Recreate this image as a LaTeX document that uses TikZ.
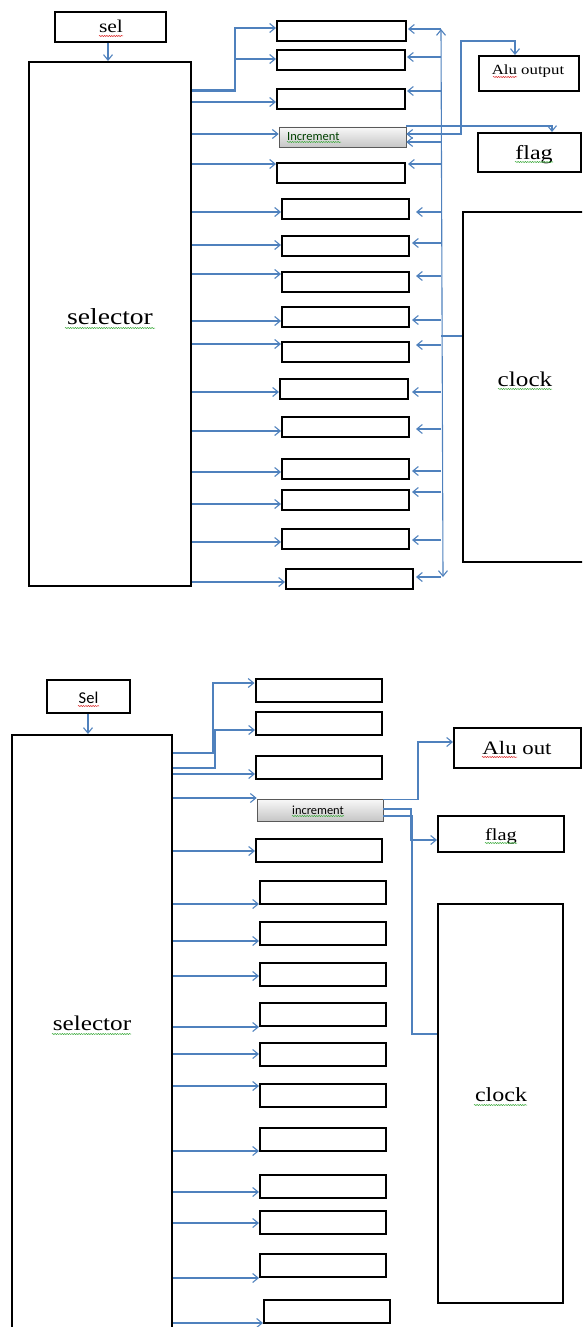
\documentclass[tikz,border=0pt]{standalone}
\usepackage{fontspec}
\setmainfont{Liberation Serif}
\newfontfamily\wserif[FakeStretch=1.2]{Liberation Serif}
\newfontfamily\wsans{Carlito}
\usetikzlibrary{arrows.meta,shadows,decorations.pathmorphing}
\definecolor{wblue}{RGB}{79,129,189}
\definecolor{sqred}{RGB}{220,40,40}
\definecolor{sqgreen}{RGB}{60,170,60}
\begin{document}
\begin{tikzpicture}[x=1pt,y=-1pt,
  box/.style={draw=black, line width=2pt, fill=white, inner sep=0pt, minimum width=127pt, minimum height=20pt},
  bigbox/.style={draw=black, line width=2pt, fill=white, inner sep=0pt},
  incbox/.style={draw=gray!70!black, line width=0.6pt, top color=gray!5, bottom color=gray!45, inner sep=0pt,
     drop shadow={shadow xshift=1pt, shadow yshift=-1.2pt, opacity=0.35}},
  lbl/.style={inner sep=0pt, anchor=base},
  conn/.style={draw=wblue, line width=1.1pt, -{Straight Barb[length=5.5pt,width=9pt]}},
  plain/.style={draw=wblue, line width=1.1pt},
  dbl/.style={draw=wblue, line width=1.1pt, {Straight Barb[length=5.5pt,width=9pt]}-{Straight Barb[length=5.5pt,width=9pt]}},
  squig/.style={decorate, decoration={snake, amplitude=0.6pt, segment length=2.4pt}, line width=0.5pt}
]
\useasboundingbox (0,0) rectangle (582,1327);
\clip (0,0) rectangle (582,1327);

% ================= TOP DIAGRAM =================
\node[box, minimum width=111pt, minimum height=30pt] (selT) at (110.5,27) {};
\node[lbl, font={\wserif\fontsize{18}{18}\selectfont}] (selTt) at (111,33) {sel};
\node[bigbox, minimum width=162pt, minimum height=524pt] (selA) at (110,324) {};
\node[lbl, font={\wserif\fontsize{23}{23}\selectfont}] (selAt) at (110,324) {selector};

\foreach \n/\cx/\cy/\w in {t1/341.5/31/129, t2/341/60/128, t3/341/99/128, t5/341/173/128,
  t6/345.5/209/127, t7/345.5/246/127, t8/345.5/282/127, t9/345.5/316.5/127, t10/345.5/352/127,
  t11/344/388.5/128, t12/345.5/427/127, t13/345.5/469/127, t14/345.5/499.5/127, t15/345.5/539/127,
  t16/349.5/579/127}
  \node[box, minimum width=\w pt] (\n) at (\cx,\cy) {};
\node[incbox, minimum width=127pt, minimum height=20pt] (tinc) at (342.5,137) {};
\node[lbl, anchor=base west, font={\wsans\fontsize{12.5}{12.5}\selectfont}, text=black!75!green] (tinct) at (287,140) {Increment};

\node[box, minimum width=100pt, minimum height=35pt] (aluT) at (529,73.5) {};
\node[lbl, font={\wserif\fontsize{14}{14}\selectfont}] (aluTt) at (528,75) {Alu output};
\node[box, minimum width=103pt, minimum height=39pt] (flagT) at (529.5,152.5) {};
\node[lbl, font={\wserif\fontsize{20}{20}\selectfont}] (flagTt) at (534,159) {flag};
\node[bigbox, minimum width=140pt, minimum height=350pt] (clkT) at (533,387) {};
\node[lbl, font={\wserif\fontsize{21}{21}\selectfont}] (clkTt) at (525,386) {clock};

% selector arrows
\draw[conn] (selT.south -| 108,0) -- (selA.north -| 108,0);
\draw[conn] (selA.east |- 0,90) -| (235,28) -- (t1.west |- 0,28);
\draw[conn] (selA.east |- 0,91.5) -| (235,59) -- (t2.west |- 0,59);
\draw[conn] (selA.east |- 0,134) -- (tinc.west |- 0,134);
\foreach \n/\y in {t3/102, t5/164, t6/212, t7/245, t8/274, t9/321, t10/344, t11/392, t12/431,
  t13/472, t14/504, t15/542, t16/582}
  \draw[conn] (selA.east |- 0,\y) -- (\n.west |- 0,\y);

% bus
\coordinate (busTop) at (441,29);
\coordinate (busBot) at (443,577);
\draw[dbl] (busTop) -- (busBot);
\foreach \n/\y/\s in {t1/29/1, t2/57/1, t3/91/1, t5/164/2, t6/212/6, t7/243/2, t8/276/6, t9/320/2,
  t10/345/6, t11/392/3, t12/429/6, t13/471/2, t14/492/2, t15/540/2, t16/577/2}
  \draw[conn, shorten >=\s pt] (busTop |- 0,\y) -- (\n.east |- 0,\y);
\draw[conn] (busTop |- 0,142) -- (tinc.east |- 0,142);
\draw[plain] (busTop |- 0,336) -- (clkT.west |- 0,336);

% increment outputs (top)
\draw[conn] (tinc.east |- 0,126) -| (flagT.north -| 552,0);
\draw[dbl] (tinc.east |- 0,134) -- (461,134) |- (515,41) -- (aluT.north -| 515,0);

% ================= BOTTOM DIAGRAM =================
\node[box, minimum width=83pt, minimum height=33pt] (selB) at (88.5,696.5) {};
\node[lbl, font={\wsans\fontsize{16.5}{16.5}\selectfont}] (selBt) at (88.5,703) {Sel};
\node[bigbox, minimum width=160pt, minimum height=610pt] (selC) at (92,1040) {};
\node[lbl, font={\wserif\fontsize{21}{21}\selectfont}] (selCt) at (92,1030) {selector};

\foreach \n/\cx/\cy in {b1/318.5/690.5, b2/319/723.5, b3/319/767, b5/319/850,
  b6/323/892, b7/323/933.5, b8/323/974.5, b9/323/1014.5, b10/323/1054.5, b11/323/1095,
  b12/323/1139, b13/323/1186.5, b14/323/1222, b15/323/1265.5, b16/327/1311}
  \node[box, minimum width=126pt, minimum height=23pt] (\n) at (\cx,\cy) {};
\node[incbox, minimum width=126pt, minimum height=22pt] (binc) at (320,810) {};
\node[lbl, font={\wsans\fontsize{12.4}{12.4}\selectfont}] (binct) at (318,814) {increment};

\node[box, minimum width=127pt, minimum height=40pt] (aluB) at (517.5,748) {};
\node[lbl, font={\wserif\fontsize{19}{19}\selectfont}] (aluBt) at (517,754) {Alu out};
\node[box, minimum width=126pt, minimum height=36pt] (flagB) at (501,834) {};
\node[lbl, font={\wserif\fontsize{17}{17}\selectfont}] (flagBt) at (501,840) {flag};
\node[box, minimum width=125pt, minimum height=399pt] (clkB) at (500.5,1103.5) {};
\node[lbl, font={\wserif\fontsize{20}{20}\selectfont}] (clkBt) at (501,1101) {clock};

\draw[conn] (selB.south -| 88,0) -- (selC.north -| 88,0);
\draw[conn] (selC.east |- 0,753) -| (213,683) -- (b1.west |- 0,683);
\draw[conn] (selC.east |- 0,768) -| (215,730) -- (b2.west |- 0,730);
\draw[conn] (selC.east |- 0,798) -- (binc.west |- 0,798);
\foreach \n/\y in {b3/774, b5/851, b6/904, b7/941, b8/976, b9/1027, b10/1054, b11/1086,
  b12/1151, b13/1192, b14/1223, b15/1278, b16/1323}
  \draw[conn] (selC.east |- 0,\y) -- (\n.west |- 0,\y);

\draw[conn] (binc.east |- 0,799.5) -| (418,742) -- (aluB.west |- 0,742);
\draw[conn] (binc.east |- 0,809) -| (411,840) -- (flagB.west |- 0,840);
\draw[plain] (binc.east |- 0,816) -| (412,1034) -- (clkB.west |- 0,1034);

% ================= spell-check squiggles =================
\draw[squig, sqred] (99,36) -- (123,36);
\draw[squig, sqgreen] (65,328) -- (155,328);
\draw[squig, sqgreen] (287,142) -- (341,142);
\draw[squig, sqred] (493,77) -- (517,77);
\draw[squig, sqgreen] (515,162) -- (553,162);
\draw[squig, sqgreen] (498,389) -- (552,389);
\draw[squig, sqred] (78,706) -- (99,706);
\draw[squig, sqgreen] (52,1034) -- (131,1034);
\draw[squig, sqgreen] (292,816) -- (344,816);
\draw[squig, sqred] (482,757) -- (517,757);
\draw[squig, sqgreen] (485,843) -- (517,843);
\draw[squig, sqgreen] (474,1105) -- (527,1105);
\end{tikzpicture}
\end{document}
